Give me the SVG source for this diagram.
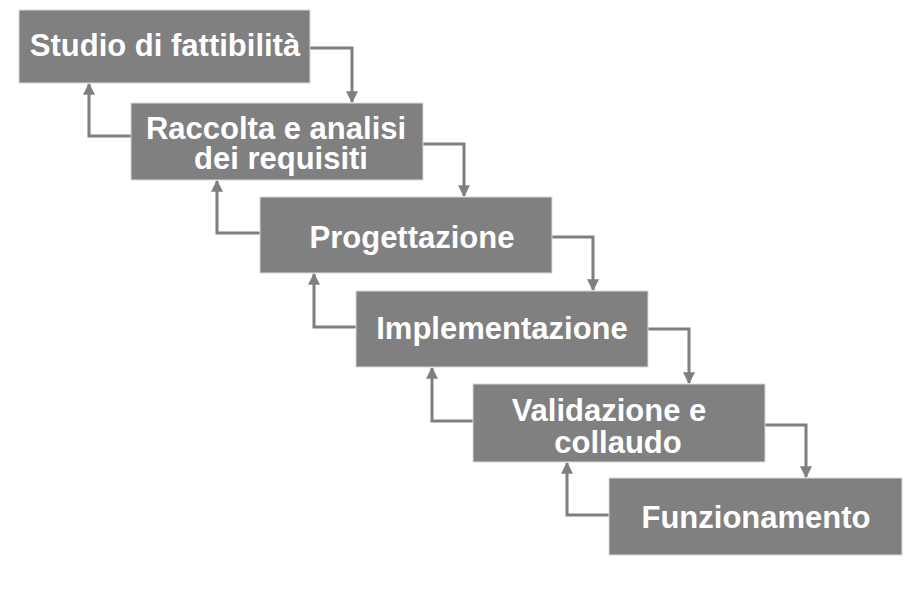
<svg xmlns="http://www.w3.org/2000/svg" width="919" height="606" viewBox="0 0 919 606">
<style>
.box{fill:#808080;stroke:#d9d9d9;stroke-width:1}
.t{fill:#fff;font-family:"Liberation Sans",Arial,sans-serif;font-weight:bold;font-size:31px;text-anchor:middle}
.c{fill:none;stroke:#7f7f7f;stroke-width:3}
</style>
<defs>
<marker id="ah" viewBox="0 0 10 10" refX="9" refY="5" markerWidth="4" markerHeight="4" orient="auto" markerUnits="strokeWidth">
<path d="M0,0 L10,5 L0,10 z" fill="#7f7f7f"/>
</marker>
</defs>
<rect width="919" height="606" fill="#fff"/>
<g id="connectors">
<polyline class="c" points="310,48 352,48 352,102" marker-end="url(#ah)"/>
<polyline class="c" points="131,136 89,136 89,84" marker-end="url(#ah)"/>
<polyline class="c" points="423,144 464,144 464,196" marker-end="url(#ah)"/>
<polyline class="c" points="260,233 217,233 217,181" marker-end="url(#ah)"/>
<polyline class="c" points="552,237 593,237 593,290" marker-end="url(#ah)"/>
<polyline class="c" points="356,327 314,327 314,274" marker-end="url(#ah)"/>
<polyline class="c" points="648,329 689,329 689,383" marker-end="url(#ah)"/>
<polyline class="c" points="473,421 432,421 432,368" marker-end="url(#ah)"/>
<polyline class="c" points="765,425 806,425 806,477" marker-end="url(#ah)"/>
<polyline class="c" points="609,515 567,515 567,463" marker-end="url(#ah)"/>
</g>
<g id="n1"><rect class="box" x="19" y="10" width="291" height="73"/><text class="t" x="165" y="56">Studio di fattibilità</text></g>
<g id="n2"><rect class="box" x="131" y="103" width="292" height="77"/><text class="t"><tspan x="276" y="139">Raccolta e analisi</tspan><tspan x="281" y="169">dei requisiti</tspan></text></g>
<g id="n3"><rect class="box" x="260" y="197" width="292" height="76"/><text class="t" x="412" y="248">Progettazione</text></g>
<g id="n4"><rect class="box" x="356" y="291" width="292" height="76"/><text class="t" x="502" y="339">Implementazione</text></g>
<g id="n5"><rect class="box" x="473" y="384" width="292" height="78"/><text class="t"><tspan x="609" y="421">Validazione e</tspan><tspan x="618" y="453">collaudo</tspan></text></g>
<g id="n6"><rect class="box" x="609" y="478" width="293" height="77"/><text class="t" x="756" y="528">Funzionamento</text></g>
</svg>
